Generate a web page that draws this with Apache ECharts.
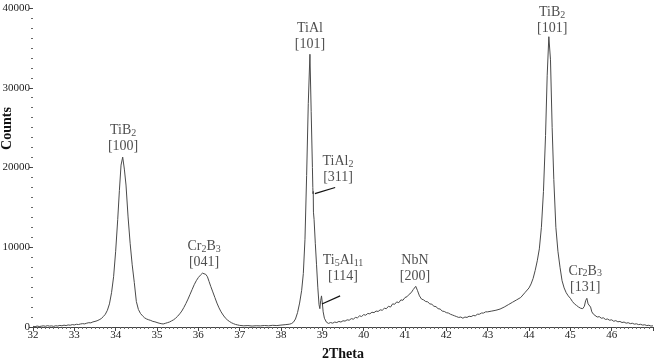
<!DOCTYPE html>
<html>
<head>
<meta charset="utf-8">
<script src="https://cdn.jsdelivr.net/npm/echarts@6/dist/echarts.min.js"></script>
<style>
html, body { margin: 0; padding: 0; background: #fff; }
#xrd-chart { width: 657px; height: 364px; }
</style>
</head>
<body>
<div id="xrd-chart"></div>
<script>
var twoTheta = [
	32.00, 32.05, 32.10, 32.15, 32.20, 32.25, 32.30, 32.35, 32.40, 32.45, 32.50, 32.55, 32.60, 32.65, 32.70, 32.75, 32.80, 32.85, 32.90, 32.95,
	33.00, 33.05, 33.10, 33.15, 33.20, 33.25, 33.30, 33.35, 33.40, 33.45, 33.50, 33.55, 33.60, 33.65, 33.70, 33.75, 33.80, 33.85, 33.90, 33.95,
	34.00, 34.05, 34.09, 34.13, 34.17, 34.21, 34.25, 34.30, 34.35, 34.40, 34.45, 34.50, 34.55, 34.60, 34.65, 34.70, 34.75, 34.80, 34.85, 34.90,
	34.95, 35.00, 35.05, 35.10, 35.15, 35.20, 35.25, 35.30, 35.35, 35.40, 35.45, 35.50, 35.55, 35.60, 35.65, 35.70, 35.75, 35.80, 35.85, 35.90,
	35.95, 36.00, 36.05, 36.10, 36.14, 36.18, 36.22, 36.26, 36.30, 36.35, 36.40, 36.45, 36.50, 36.55, 36.60, 36.65, 36.70, 36.75, 36.80, 36.85,
	36.90, 36.95, 37.00, 37.10, 37.20, 37.30, 37.40, 37.50, 37.60, 37.70, 37.80, 37.90, 38.00, 38.10, 38.20, 38.25, 38.30, 38.35, 38.40, 38.45,
	38.50, 38.54, 38.58, 38.62, 38.66, 38.70, 38.73, 38.76, 38.77, 38.775, 38.78, 38.785, 38.80, 38.83, 38.86, 38.89, 38.92, 38.94, 38.96, 38.98,
	39.00, 39.02, 39.05, 39.10, 39.15, 39.20, 39.25, 39.30, 39.35, 39.40, 39.45, 39.50, 39.55, 39.60, 39.65, 39.70, 39.75, 39.80, 39.85, 39.90,
	39.95, 40.00, 40.05, 40.10, 40.15, 40.20, 40.25, 40.30, 40.35, 40.40, 40.45, 40.50, 40.55, 40.60, 40.65, 40.70, 40.75, 40.80, 40.85, 40.90,
	40.95, 41.00, 41.05, 41.10, 41.15, 41.20, 41.26, 41.30, 41.35, 41.40, 41.45, 41.50, 41.55, 41.60, 41.65, 41.70, 41.75, 41.80, 41.85, 41.90,
	41.95, 42.00, 42.05, 42.10, 42.15, 42.20, 42.25, 42.30, 42.35, 42.40, 42.45, 42.50, 42.55, 42.60, 42.65, 42.70, 42.75, 42.80, 42.85, 42.90,
	42.95, 43.00, 43.10, 43.20, 43.30, 43.40, 43.50, 43.60, 43.70, 43.80, 43.90, 44.00, 44.05, 44.10, 44.15, 44.20, 44.25, 44.30, 44.35, 44.40,
	44.44, 44.48, 44.52, 44.56, 44.60, 44.65, 44.70, 44.75, 44.80, 44.85, 44.90, 44.95, 45.00, 45.05, 45.10, 45.15, 45.20, 45.25, 45.30, 45.34,
	45.37, 45.40, 45.43, 45.46, 45.49, 45.52, 45.56, 45.60, 45.65, 45.70, 45.75, 45.80, 45.85, 45.90, 45.95, 46.00, 46.05, 46.10, 46.15, 46.20,
	46.25, 46.30, 46.35, 46.40, 46.45, 46.50, 46.55, 46.60, 46.65, 46.70, 46.75, 46.80, 46.85, 46.90, 46.95, 47.00
];
var counts = [
	80, 40, 120, 60, 100, 150, 90, 170, 110, 140, 80, 160, 120, 200, 150, 230, 180, 260, 220, 300,
	260, 340, 310, 380, 420, 390, 480, 540, 520, 640, 700, 780, 900, 1050, 1300, 1600, 2100, 2900, 4300, 6300,
	9500, 13500, 17100, 20300, 21300, 19800, 17800, 13800, 10500, 7800, 5600, 3200, 2200, 1700, 1400, 1150, 1000, 900, 820, 700,
	650, 560, 480, 420, 380, 460, 540, 620, 760, 900, 1100, 1350, 1650, 2000, 2450, 2950, 3500, 4100, 4700, 5300,
	5800, 6200, 6500, 6750, 6850, 6600, 6300, 5700, 5100, 4400, 3700, 3000, 2400, 1900, 1500, 1150, 900, 700, 540, 420,
	320, 260, 200, 150, 180, 120, 160, 140, 190, 150, 210, 180, 240, 290, 350, 420, 600, 1000, 1800, 3000,
	4600, 6700, 11000, 19000, 28000, 34200, 27000, 20000, 17500, 16700, 17000, 14400, 13500, 10500, 7800, 5000, 2800, 2300, 3300, 3900,
	3000, 1900, 1100, 600, 450, 560, 480, 620, 560, 700, 620, 780, 740, 900, 850, 1050, 980, 1200, 1150, 1400,
	1320, 1550, 1480, 1700, 1650, 1850, 1800, 2000, 1950, 2150, 2100, 2350, 2300, 2600, 2500, 2900, 2850, 3150, 3050, 3400,
	3350, 3700, 3800, 4100, 4300, 4700, 5100, 4600, 3900, 3500, 3400, 3200, 3150, 2900, 2850, 2600, 2550, 2300, 2250, 2000,
	1950, 1800, 1750, 1600, 1500, 1400, 1300, 1200, 1250, 1100, 1250, 1200, 1350, 1300, 1450, 1400, 1600, 1600, 1750, 1750,
	1900, 1900, 2000, 2100, 2250, 2500, 2800, 3100, 3400, 3700, 4300, 4900, 5400, 6100, 7100, 8300, 9800, 12500, 17000, 24000,
	31500, 36400, 33500, 25000, 18500, 12500, 9500, 7500, 5800, 4900, 4300, 3900, 3600, 3200, 2900, 2700, 2500, 2350, 2300, 2600,
	3300, 3600, 2900, 2700, 2500, 1900, 1600, 1400, 1250, 1300, 1100, 1150, 950, 1000, 850, 900, 720, 800, 650, 700,
	560, 620, 480, 540, 420, 470, 360, 400, 300, 340, 240, 280, 180, 220, 120, 150
];

// peak labels: phase (_n = subscript), reflection, anchor position
var peakPhase = ['TiB_2', 'Cr_2B_3', 'TiAl', 'TiAl_2', 'Ti_5Al_11', 'NbN', 'TiB_2', 'Cr_2B_3'];
var peakHkl = ['[100]', '[041]', '[101]', '[311]', '[114]', '[200]', '[101]', '[131]'];
var labelX = [34.18, 36.14, 38.70, 39.38, 39.50, 41.24, 44.56, 45.36];
var labelY = [23700, 9120, 36480, 19750, 7360, 7300, 38500, 6040];

// leader lines for the small peaks
var leaders = [
	[[38.82, 16730], [39.31, 17490]],
	[[38.99, 2890], [39.43, 3900]]
];

function xrdChart(){//衍射图
	var pattern = [];
	for (var i = 0; i < twoTheta.length; i++) {
		pattern.push([twoTheta[i], counts[i]]);
	}
	var labels = [];
	for (var j = 0; j < peakPhase.length; j++) {
		labels.push({
			value: [labelX[j], labelY[j]],
			phase: peakPhase[j],
			hkl: peakHkl[j]
		});
	}
	var font = '"Liberation Serif", "Times New Roman", serif';

	var chart = echarts.init(document.getElementById('xrd-chart'));
	var option = {
		animation: false,
		grid: { left: 33, right: 4, top: 8, bottom: 37, containLabel: false, outerBoundsMode: 'none' },
		xAxis: {
			type: 'value',
			min: 32,
			max: 47,
			interval: 1,
			name: '2Theta',
			nameLocation: 'middle',
			nameGap: 20,
			nameTextStyle: { fontFamily: font, fontSize: 14, fontWeight: 'bold', color: '#111' },
			axisLine: { show: true, lineStyle: { color: '#444', width: 1 } },
			axisTick: { show: true, length: 4, lineStyle: { color: '#444' } },
			minorTick: { show: true, splitNumber: 10, length: 2, lineStyle: { color: '#666' } },
			axisLabel: {
				fontFamily: font, fontSize: 11, color: '#222', margin: 3,
				formatter: function (v) { return v >= 47 ? '' : String(v); }
			},
			splitLine: { show: false }
		},
		yAxis: {
			type: 'value',
			min: 0,
			max: 40000,
			interval: 10000,
			name: 'Counts',
			nameLocation: 'middle',
			nameGap: 19,
			nameMoveOverlap: false,
			nameTextStyle: { fontFamily: font, fontSize: 14, fontWeight: 'bold', color: '#111', padding: [0, 0, 0, 78] },
			axisLine: { show: false },
			axisTick: { show: true, length: 4, lineStyle: { color: '#444' } },
			minorTick: { show: true, splitNumber: 8, length: 2, lineStyle: { color: '#666' } },
			axisLabel: {
				fontFamily: font, fontSize: 11, color: '#222', margin: 3,
				formatter: function (v) { return String(v); }
			},
			splitLine: { show: false }
		},
		series: [
			{
				name: 'pattern',
				type: 'line',
				data: pattern,
				symbol: 'none',
				lineStyle: { color: '#4a4a4a', width: 1 },
				markLine: {
					silent: true,
					symbol: 'none',
					label: { show: false },
					lineStyle: { color: '#111', width: 1.2, type: 'solid' },
					data: leaders.map(function (p) {
						return [{ coord: p[0] }, { coord: p[1] }];
					})
				}
			},
			{
				name: 'peaks',
				type: 'scatter',
				data: labels,
				symbolSize: 0,
				silent: true,
				label: {
					show: true,
					position: 'inside',
					align: 'center',
					formatter: function (p) {
						var name = '{m|' + p.data.phase.replace(/_(\d+)/g, '}{s|$1}{m|') + '}';
						return name + '\n{m|' + p.data.hkl + '}';
					},
					rich: {
						m: { fontFamily: font, fontSize: 14, color: '#222', lineHeight: 16 },
						s: { fontFamily: font, fontSize: 10, color: '#222', lineHeight: 16, verticalAlign: 'bottom' }
					}
				}
			}
		]
	};
	chart.setOption(option);
}
xrdChart();
</script>
</body>
</html>
